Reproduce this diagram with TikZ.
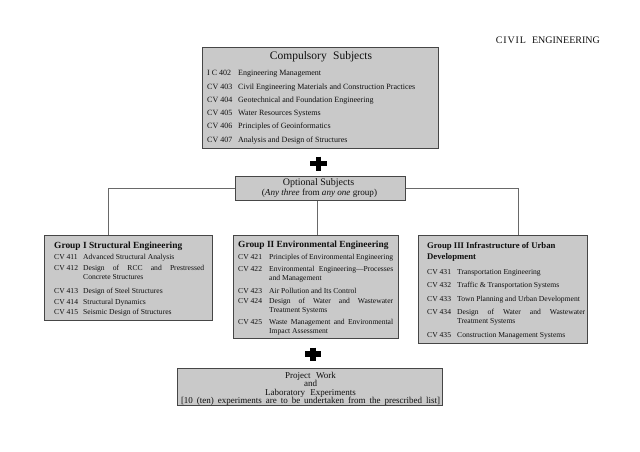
\documentclass[tikz,border=0pt]{standalone}
\usepackage{fontspec}
\setmainfont{Liberation Serif}
\usepackage{array}
\usetikzlibrary{calc}
\hyphenpenalty=10000
\exhyphenpenalty=10000
\tolerance=9999
\emergencystretch=10pt
\hbadness=10000
\definecolor{boxfill}{RGB}{201,201,201}
\definecolor{boxline}{RGB}{70,70,70}
\definecolor{linecol}{RGB}{105,105,105}
\definecolor{txtcol}{RGB}{15,15,15}
\newcommand{\itemfont}{\fontsize{7.6}{9}\selectfont}
\newcommand{\projfont}{\fontsize{9}{8.4}\selectfont\lineskiplimit=-6pt\relax}
\newcommand{\rowgap}[1]{\\\noalign{\vskip #1}}
\begin{document}
\begin{tikzpicture}[x=1pt,y=-1pt,
  box/.style={draw=boxline, fill=boxfill, line width=1pt, inner sep=0pt, rectangle, anchor=north west},
  txt/.style={inner sep=0pt, text=txtcol},
  conn/.style={draw=linecol, line width=0.7pt},
  plusbar/.style={line width=5.8pt, black}]
\useasboundingbox (0,0) rectangle (640,452);
% title
\node[txt, anchor=base east, font=\fontsize{10}{12}\selectfont] (title) at (600,43.5) {{\addfontfeature{LetterSpace=9}CIVIL}\hspace{0.6em}ENGINEERING};
% compulsory
\node[box, minimum width=236pt, minimum height=101pt] (comp) at (202,47) {};
\node[txt, font=\fontsize{11.5}{13}\selectfont] (comptitle) at (321,57) {Compulsory\hspace{0.3em} Subjects};
\node[txt, anchor=base west, font=\fontsize{8}{13.3}\selectfont] (complist) at (207,75.8) {%
\begin{tabular}[t]{@{}p{31pt}@{}l@{}}
I C 402 & Engineering Management\\
CV 403 & Civil Engineering Materials and Construction Practices\\
CV 404 & Geotechnical and Foundation Engineering\\
CV 405 & Water Resources Systems\\
CV 406 & Principles of Geoinformatics\\
CV 407 & Analysis and Design of Structures
\end{tabular}};
% plus 1
\coordinate (p1) at (318.5,163.5);
\draw[plusbar] ($(p1)+(-8.5,0)$) -- ($(p1)+(8.5,0)$);
\draw[plusbar] ($(p1)+(0,-7)$) -- ($(p1)+(0,7)$);
% optional
\node[box, minimum width=170pt, minimum height=24pt] (opt) at (235,176) {};
\node[txt, font=\fontsize{10}{11}\selectfont] (opttitle) at (318.5,183) {Optional Subjects};
\node[txt, font=\fontsize{9.1}{11}\selectfont] (optsub) at (319.5,193.3) {(\textit{Any three} from \textit{any one} group)};
% groups
\node[box, minimum width=168pt, minimum height=85pt] (g1) at (44,235) {};
\node[box, minimum width=165pt, minimum height=103pt] (g2) at (233,235) {};
\node[box, minimum width=169pt, minimum height=108pt] (g3) at (418,235) {};
% connectors
\coordinate (j1) at (108,188);
\coordinate (j3) at (518,188);
\coordinate (c2) at (317,0);
\draw[conn] (opt.west |- j1) -- (j1) -- (j1 |- g1.north);
\draw[conn] (opt.east |- j3) -- (j3) -- (j3 |- g3.north);
\draw[conn] (opt.south -| c2) -- (c2 |- g2.north);
% group I
\node[txt, anchor=base west, font=\bfseries\fontsize{9.4}{11}\selectfont] (g1t) at (54,248.2) {Group I Structural Engineering};
\node[txt, anchor=base west, font=\itemfont] (g1l) at (54,259.3) {%
\begin{tabular}[t]{@{}p{29pt}@{}p{121pt}@{}}
CV 411 & Advanced Structural Analysis\rowgap{2.6pt}
CV 412 & Design of RCC and Prestressed Concrete Structures\rowgap{4.4pt}
CV 413 & Design of Steel Structures\rowgap{2pt}
CV 414 & Structural Dynamics\rowgap{1pt}
CV 415 & Seismic Design of Structures
\end{tabular}};
% group II
\node[txt, anchor=base west, font=\bfseries\fontsize{9.4}{11}\selectfont] (g2t) at (238,247.5) {Group II Environmental Engineering};
\node[txt, anchor=base west, font=\itemfont] (g2l) at (238,259.8) {%
\begin{tabular}[t]{@{}p{31pt}@{}p{124pt}@{}}
CV 421 & Principles of Environmental Engineering\rowgap{3pt}
CV 422 & Environmental Engineering---Processes and Management\rowgap{4pt}
CV 423 & Air Pollution and Its Control\rowgap{1pt}
CV 424 & Design of Water and Wastewater Treatment Systems\rowgap{3pt}
CV 425 & Waste Management and Environmental Impact Assessment
\end{tabular}};
% group III
\node[txt, anchor=base west, align=left, font=\bfseries\fontsize{8.7}{11}\selectfont] (g3t) at (427,259) {Group III Infrastructure of Urban\\Development};
\node[txt, anchor=base west, font=\itemfont] (g3l) at (427,274.4) {%
\begin{tabular}[t]{@{}p{30pt}@{}p{128pt}@{}}
CV 431 & Transportation Engineering\rowgap{4.3pt}
CV 432 & Traffic \& Transportation Systems\rowgap{4.3pt}
CV 433 & Town Planning and Urban Development\rowgap{4.3pt}
CV 434 & Design of Water and Wastewater Treatment Systems\rowgap{5.3pt}
CV 435 & Construction Management Systems
\end{tabular}};
% plus 2
\coordinate (p2) at (313,354);
\draw[plusbar] ($(p2)+(-8,0)$) -- ($(p2)+(8,0)$);
\draw[plusbar] ($(p2)+(0,-6.5)$) -- ($(p2)+(0,6.5)$);
% project
\node[box, minimum width=265pt, minimum height=37pt] (proj) at (177,368) {};
\node[txt, align=center, anchor=base, font=\projfont] (projtxt) at (310.5,403.5) {Project\hspace{0.35em} Work\\and\\Laboratory\hspace{0.35em} Experiments\\\makebox[259pt][s]{[10 (ten) experiments are to be undertaken from the prescribed list]}};
\end{tikzpicture}
\end{document}
